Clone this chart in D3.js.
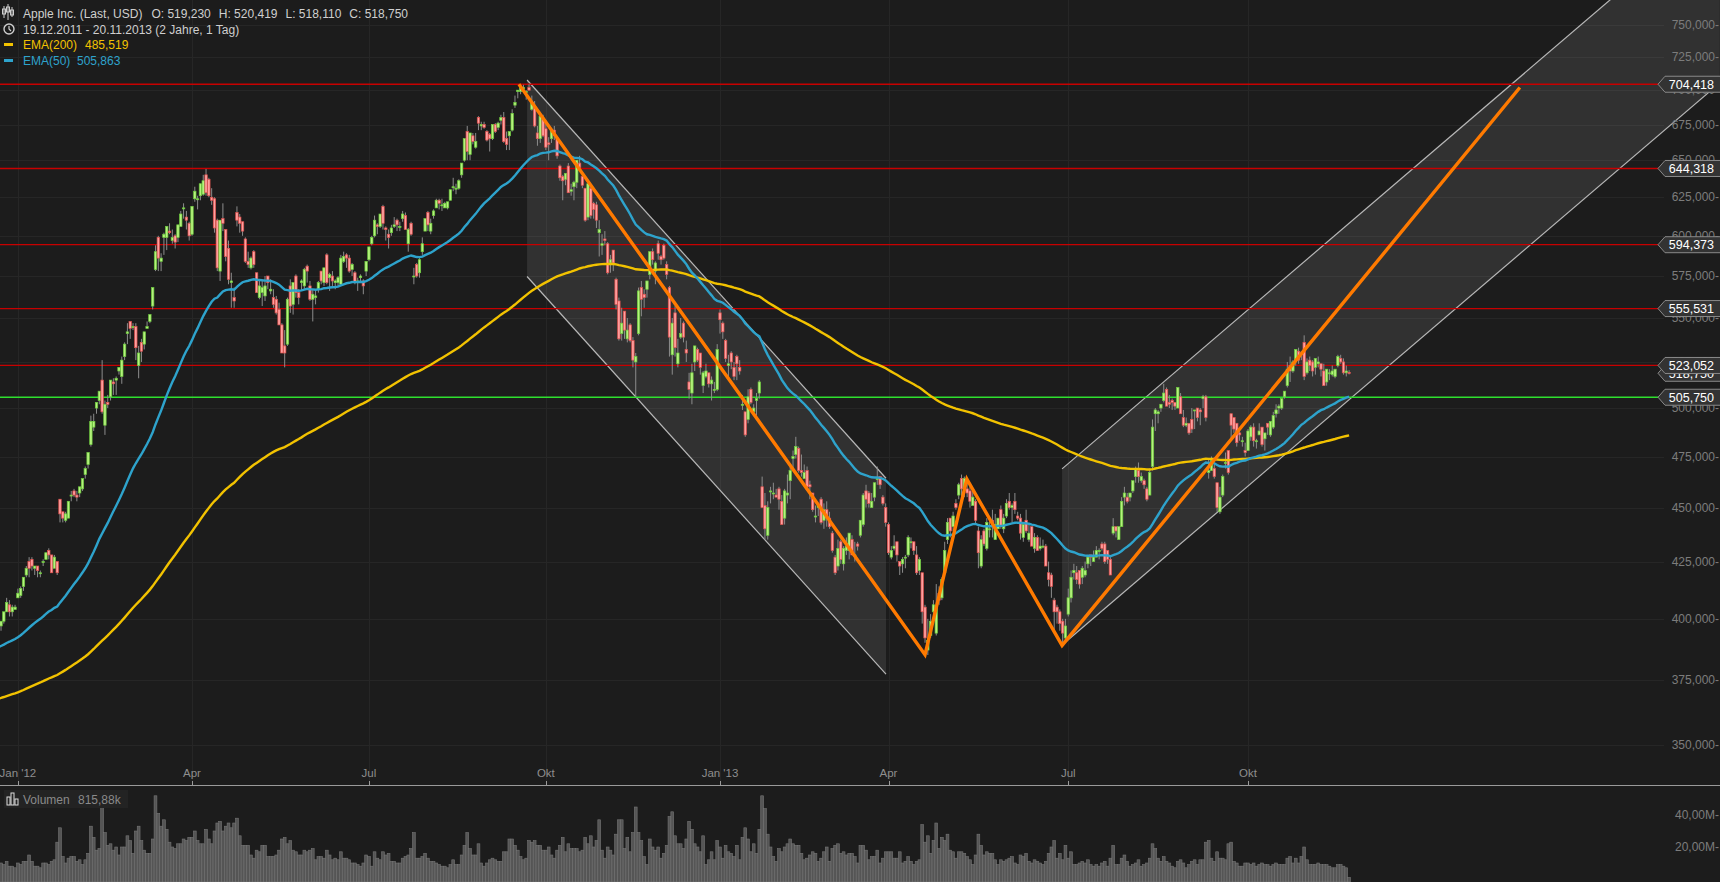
<!DOCTYPE html>
<html><head><meta charset="utf-8">
<script src="https://cdn.jsdelivr.net/npm/d3@7"></script>
<style>html,body{margin:0;padding:0;background:#1c1c1c;overflow:hidden}svg{display:block}</style>
</head><body>
<svg id="chart" width="1720" height="882"></svg>
<script>
// ---- DATA: daily rows [day, open, high, low, close, volume (millions)] ----
const m2011_12=[[19,385,385,380,382,11],[20,388,396,388,396,15],[21,396,397,388,396,13],[22,397,399,395,399,10],[23,399,403,398,403,9],[27,403,409,403,407,11],[28,406,408,401,403,8],[29,403,406,401,405,8],[30,404,406,404,405,7]];
const m2012_01=[[3,409,413,409,411,10],[4,410,414,409,413,9],[5,414,418,412,418,11],[6,419,423,418,422,11],[9,425,427,418,422,15],[10,426,427,421,423,11],[11,422,423,419,423,8],[12,423,423,418,421,8],[13,420,421,418,420,7],[17,425,426,423,425,10],[18,426,429,426,429,10],[19,430,431,426,428,9],[20,428,428,420,420,11],[23,422,428,422,427,12],[24,425,425,419,420,23],[25,454,454,443,447,32],[26,448,448,443,445,14],[27,444,448,443,447,10],[30,445,453,445,453,13],[31,456,458,453,456,14]];
const m2012_02=[[1,458,459,455,456,14],[2,456,458,453,455,11],[3,457,460,455,460,12],[6,459,464,458,464,9],[7,466,470,464,469,12],[8,471,477,469,477,16],[9,481,496,480,493,33],[10,490,497,488,493,26],[13,500,503,497,503,18],[14,504,509,502,509,19],[15,515,526,497,498,55],[16,491,504,486,502,29],[17,503,507,500,502,21],[21,506,515,504,515,22],[22,514,516,507,513,18],[23,515,517,507,516,20],[24,520,522,518,522,15],[27,517,528,513,526,20],[28,528,536,526,535,20],[29,541,547,535,542,27]];
const m2012_03=[[1,548,548,538,544,24],[2,545,547,543,545,16],[5,545,547,526,533,30],[6,523,534,516,530,33],[7,536,538,525,531,24],[8,535,542,532,542,18],[9,544,548,544,545,16],[12,548,552,547,552,16],[13,557,568,555,568,25],[14,579,594,578,590,52],[15,599,600,578,586,41],[16,584,589,578,586,33],[19,599,602,588,601,37],[20,599,606,591,606,31],[21,603,608,601,602,23],[22,597,604,595,599,20],[23,600,601,592,596,19],[26,599,607,596,607,22],[27,606,616,606,614,22],[28,618,621,611,618,25],[29,612,616,604,610,24],[30,608,609,597,600,26]];
const m2012_04=[[2,601,619,600,619,26],[3,624,632,622,629,30],[4,624,626,617,624,24],[5,626,634,623,634,22],[9,627,640,626,636,22],[10,640,644,626,628,31],[11,637,638,625,626,25],[12,625,631,620,623,22],[13,624,625,602,605,30],[16,610,611,578,580,35],[17,578,610,572,610,36],[18,611,621,603,608,30],[19,604,604,584,587,33],[20,592,597,570,573,35],[23,571,577,556,572,32],[24,562,568,556,560,35],[25,615,619,606,610,38],[26,612,614,602,608,27],[27,609,609,600,603,21],[30,598,599,583,584,21]];
const m2012_05=[[1,584,590,580,582,21],[2,580,587,579,586,15],[3,590,591,580,582,13],[4,577,577,565,565,18],[7,562,573,561,569,17],[8,565,573,557,568,21],[9,563,575,560,569,21],[10,575,575,567,571,14],[11,566,573,564,567,14],[14,562,567,556,558,14],[15,561,563,552,553,15],[16,555,559,546,546,18],[17,546,547,530,530,25],[18,534,543,522,530,26],[21,535,562,534,561,22],[22,569,573,553,557,24],[23,558,571,552,571,18],[24,575,576,562,565,17],[25,565,567,558,562,15],[29,571,573,566,572,15],[30,569,580,567,579,18],[31,581,582,571,578,17]];
const m2012_06=[[1,569,572,560,561,18],[4,561,567,548,564,19],[5,562,566,558,563,12],[6,567,572,565,571,14],[7,578,578,570,572,14],[8,571,580,569,580,13],[11,588,589,570,571,18],[12,574,577,566,576,15],[13,575,578,569,572,12],[14,571,573,567,572,13],[15,571,575,569,574,12],[18,570,588,570,586,17],[19,584,590,583,587,13],[20,588,589,580,586,13],[21,586,588,577,578,12],[22,579,583,575,582,10],[25,577,578,570,571,10],[26,572,574,566,572,9],[27,574,576,571,575,8],[28,572,573,564,569,10],[29,578,584,575,584,15]];
const m2012_07=[[2,585,593,584,593,14],[3,595,600,594,599,8],[5,600,613,599,610,17],[6,607,608,601,606,13],[9,606,614,605,614,12],[10,619,620,604,608,17],[11,605,606,597,604,15],[12,601,604,592,599,16],[13,602,607,600,605,11],[16,606,612,605,607,11],[17,610,611,603,607,10],[18,606,609,603,606,10],[19,611,616,609,614,13],[20,613,615,604,604,14],[23,595,605,590,604,15],[24,608,609,600,601,19],[25,575,580,570,575,29],[26,582,583,574,575,13],[27,577,586,574,585,13],[30,590,599,588,595,14],[31,603,611,603,611,16]];
const m2012_08=[[1,615,616,603,607,13],[2,603,611,601,608,11],[3,613,617,611,616,11],[6,618,624,618,623,10],[7,623,624,617,621,9],[8,620,624,616,620,8],[9,618,622,618,621,8],[10,618,622,617,622,7],[13,623,630,623,630,9],[14,632,638,629,632,12],[15,631,634,627,631,9],[16,631,637,630,636,9],[17,640,648,638,648,15],[20,650,665,649,665,21],[21,670,674,650,656,29],[22,654,669,650,669,19],[23,667,669,661,663,15],[24,659,669,658,663,15],[27,680,681,671,676,22],[28,674,677,671,675,10],[29,675,677,672,673,8],[30,670,671,663,664,10],[31,668,669,656,665,12]];
const m2012_09=[[4,665,675,664,675,13],[5,675,676,669,670,12],[6,673,677,671,676,11],[7,678,682,675,680,11],[10,680,684,662,663,17],[11,665,670,657,661,17],[12,667,670,657,670,25],[13,671,686,670,683,25],[14,689,696,687,691,21],[17,699,700,694,700,18],[18,699,703,697,702,14],[19,701,704,700,702,12],[20,699,700,693,699,13],[21,702,704.4,700,700,24],[24,686,696,685,691,23],[25,688,692,673,674,24],[26,669,674,660,665,21],[27,665,682,662,681,21],[28,679,682,666,667,18]];
const m2012_10=[[1,672,676,657,659,18],[2,662,666,650,661,20],[3,665,672,662,671,15],[4,671,674,664,667,13],[5,665,666,651,653,18],[8,646,647,636,638,21],[9,639,640,623,636,26],[10,637,641,633,641,17],[11,646,648,628,628,22],[12,629,634,626,630,19],[15,632,636,623,635,19],[16,635,650,631,650,19],[17,648,653,643,645,17],[18,639,642,631,633,18],[19,631,631,609,610,26],[22,612,635,610,634,22],[23,631,633,611,613,27],[24,621,622,611,617,20],[25,620,622,605,610,24],[26,602,610,587,604,37],[31,594,601,588,595,18]];
const m2012_11=[[1,598,603,594,597,13],[2,595,596,576,577,20],[5,583,588,577,585,18],[6,591,591,578,583,15],[7,573,574,555,558,28],[8,560,562,537,538,37],[9,541,556,537,547,37],[12,554,554,538,543,19],[13,538,550,536,543,26],[14,546,547,536,537,17],[15,537,539,522,526,29],[16,525,530,505.75,528,45],[19,541,568,540,566,29],[20,568,572,551,561,24],[21,564,567,556,562,14],[23,567,572,562,572,9],[26,576,590,573,590,25],[27,590,592,582,585,20],[28,578,584,570,583,18],[29,595,597,585,589,20],[30,587,588,582,585,13]];
const m2012_12=[[3,594,595,585,586,16],[4,582,584,573,576,21],[5,568,569,528,539,39],[6,529,550,518,547,42],[7,553,557,528,533,27],[10,524,538,522,530,22],[11,539,550,538,541,22],[12,547,548,536,539,19],[13,532,537,525,530,25],[14,514,519,505,510,36],[17,508,524,502,519,31],[18,525,534,520,534,22],[19,532,533,525,526,20],[20,530,530,518,522,17],[21,512,520,508,519,27],[24,517,524,516,520,9],[26,519,519,511,513,12],[27,513,517,504,515,17],[28,510,514,508,510,12],[31,510,535,509,532,24]];
const m2013_01=[[2,553,555,541,549,20],[3,547,548,538,542,13],[4,537,538,525,527,21],[7,523,529,515,524,17],[8,530,531,521,525,16],[9,522,525,515,517,14],[10,528,529,515,524,21],[11,522,526,518,520,12],[14,502,507,499,502,26],[15,498,498,485,486,32],[16,494,510,492,506,25],[17,510,511,502,503,17],[18,498,502,496,500,22],[22,504,508,496,505,16],[23,508,515,505,514,31],[24,460,465,450,450,52],[25,451,457,435,440,44],[28,437,453,435,450,28],[29,458,460,452,458,20],[30,457,462,454,457,14],[31,456,459,455,455,11]];
const m2013_02=[[1,459,460,449,454,19],[4,453,456,442,442,17],[5,445,459,442,458,20],[6,456,466,452,457,22],[7,463,470,454,468,25],[8,474,478,468,475,22],[11,476,485,474,480,21],[12,479,480,467,468,21],[13,468,476,465,467,16],[14,464,471,464,467,12],[15,468,470,459,460,13],[19,461,463,454,460,15],[20,457,457,448,449,17],[21,446,451,443,446,16],[22,450,451,446,451,11],[25,454,455,442,443,13],[26,444,452,440,449,17],[27,449,453,441,445,20],[28,445,448,440,441,11]];
const m2013_03=[[1,438,439,429,430,19],[4,427,428,419,420,21],[5,423,435,421,431,22],[6,434,435,424,426,16],[7,424,432,421,431,17],[8,430,436,428,432,15],[11,430,438,426,438,16],[12,435,437,428,428,16],[13,428,434,425,428,14],[14,433,434,430,432,10],[15,437,444,436,444,21],[18,442,457,441,456,21],[19,458,461,450,454,18],[20,457,458,450,452,12],[21,450,457,450,453,14],[22,455,462,453,462,14],[25,464,470,461,464,18],[26,465,465,459,461,10],[27,455,456,451,452,13],[28,450,452,441,443,17]];
const m2013_04=[[1,442,443,428,429,17],[2,427,432,426,430,17],[3,431,437,430,432,13],[4,434,434,425,428,13],[5,425,425,419,423,17],[8,424,427,420,426,10],[9,427,428,422,427,11],[10,428,437,427,436,14],[11,434,436,431,434,11],[12,434,434,428,430,9],[15,428,432,419,420,11],[16,421,427,419,426,12],[17,420,420,398,403,34],[18,405,406,390,392,23],[19,387,400,385,391,27],[22,393,402,392,399,16],[23,403,408,398,406,24],[24,394,415,393,405,35],[25,411,414,406,408,19],[26,409,418,408,417,26],[29,420,434,420,430,24],[30,435,445,433,443,28]];
const m2013_05=[[1,445,445,436,439,18],[2,441,448,439,446,17],[3,452,454,449,450,13],[6,456,462,454,461,17],[7,464,466,453,459,17],[8,459,465,455,464,16],[9,459,463,455,457,14],[10,458,460,450,453,12],[13,451,458,451,455,9],[14,453,454,442,444,15],[15,439,441,422,429,28],[16,423,437,422,435,21],[17,439,440,432,433,15],[20,431,445,430,443,17],[21,440,445,436,440,16],[22,444,449,436,441,16],[23,435,447,435,442,12],[24,440,445,440,445,9],[28,449,451,440,441,12],[29,440,447,438,445,11],[30,446,454,445,452,12],[31,453,457,449,450,13]];
const m2013_06=[[3,450,452,443,451,14],[4,453,457,447,449,10],[5,446,448,444,445,9],[6,445,447,435,438,15],[7,436,443,434,442,14],[10,444,449,438,439,16],[11,435,442,434,438,11],[12,441,441,432,432,10],[13,431,438,429,436,12],[14,436,437,430,430,11],[17,431,436,430,432,10],[18,432,435,431,432,9],[19,432,433,423,423,11],[20,420,425,414,417,16],[21,419,420,409,414,20],[24,408,409,395,403,24],[25,405,406,398,403,13],[26,403,404,395,398,16],[27,399,400,389,394,12],[28,392,400,390,397,21]];
const m2013_07=[[1,402,413,401,409,13],[2,409,421,407,418,17],[3,420,424,417,421,9],[5,420,423,415,417,9],[8,421,421,413,415,10],[9,418,423,415,422,11],[10,419,425,418,421,10],[11,424,428,422,427,12],[12,428,428,423,427,9],[15,425,430,425,427,8],[16,427,432,427,430,9],[17,430,431,426,430,8],[18,433,434,430,431,10],[19,433,434,424,425,11],[22,430,430,424,426,8],[23,426,427,419,419,13],[24,438,445,437,441,21],[25,441,441,436,439,9],[26,435,441,435,441,9],[29,441,455,441,453,13],[30,455,460,451,457,15],[31,455,457,452,453,11]];
const m2013_08=[[1,455,457,453,457,8],[2,458,463,457,463,9],[5,465,470,462,469,10],[6,468,472,462,465,12],[7,463,467,462,465,8],[8,463,464,459,461,9],[9,459,460,453,454,10],[12,456,469,456,467,13],[13,470,494,468,490,22],[14,497,500,488,499,19],[15,497,499,492,498,13],[16,500,502,498,502,11],[19,504,513,503,508,14],[20,510,511,501,501,11],[21,503,507,500,502,10],[22,504,505,499,503,8],[23,503,503,499,501,7],[26,500,511,500,511,11],[27,506,508,497,497,12],[28,495,499,490,491,10],[29,491,495,490,492,7],[30,492,492,486,487,9]];
const m2013_09=[[3,494,500,487,489,11],[4,499,499,489,499,12],[5,500,500,493,495,9],[6,499,500,491,498,12],[9,505,507,500,506,12],[10,506,507,493,495,23],[11,467,474,464,468,24],[12,468,475,468,473,13],[13,469,472,464,465,11],[16,462,462,448,450,17],[17,448,460,447,455,13],[18,456,466,455,465,13],[19,472,477,469,472,12],[20,478,478,466,467,22],[23,497,497,484,491,23],[24,495,495,487,489,11],[25,492,492,480,482,10],[26,487,488,483,486,8],[27,483,485,480,483,8],[30,478,482,475,477,10]];
const m2013_10=[[1,478,489,478,488,10],[2,485,491,483,490,9],[3,490,492,480,483,10],[4,483,484,479,483,8],[7,486,492,486,488,9],[8,490,490,480,481,10],[9,484,487,478,487,9],[10,492,492,486,490,9],[11,486,493,485,493,8],[14,490,498,489,496,9],[15,497,502,495,499,10],[16,500,502,497,501,9],[17,500,505,499,505,9],[18,506,509,505,509,9],[21,512,525,511,521,13],[22,523,528,514,520,14],[23,520,526,519,525,10],[24,526,532,523,532,13],[25,531,533,524,526,10],[28,530,531,526,530,14],[29,536,540,515,517,20],[30,519,527,518,525,12],[31,526,528,520,523,9]];
const m2013_11=[[1,525,526,517,520,9],[4,522,527,518,527,9],[5,524,528,522,525,10],[6,524,524,517,521,9],[7,520,524,512,512,9],[8,514,521,512,521,9],[11,519,521,515,519,8],[12,518,523,517,520,7],[13,517,521,516,521,7],[14,523,529,522,528,9],[15,527,529,524,525,9],[18,525,527,518,519,8],[19,519,523,517,520,7],[20,519.23,520.419,518.11,518.75,1]];

// horizontal support / resistance levels
const levelValues=[704.418,644.318,594.373,555.531,523.052,505.750];
const levelKinds=["res","res","res","res","res","sup"];
const lastPrice=518.750;
// price-axis ticks
const priceTicks=[350,375,400,425,450,475,500,525,550,575,600,625,650,675,700,725,750];
const volTicks=[20,40];
const quarterLabels=["Jan '12","Apr","Jul","Okt","Jan '13","Apr","Jul","Okt"];
// legend texts
const headerItems=["Apple Inc. (Last, USD)","O: 519,230","H: 520,419","L: 518,110","C: 518,750"];
// drawn studies (trading-day index, price)
const zigzagIdx=[187.4,332,346.9,380.8,543.8];
const zigzagPx=[704.4,385.1,463.8,388.9,702];
const downChIdx=[190.3,318.1];
const downChUpper=[707.6,464.2];
const downChLower=[574.7,377.3];
const upChIdx=[380.8,615];
const upChUpper=[468.8,850.7];
const upChLower=[389.1,705.4];
// EMA start values read at the left edge
const ema200Seed=367, ema50Seed=387.6;

const months=[[2011,12,m2011_12],[2012,1,m2012_01],[2012,2,m2012_02],[2012,3,m2012_03],[2012,4,m2012_04],[2012,5,m2012_05],[2012,6,m2012_06],[2012,7,m2012_07],[2012,8,m2012_08],[2012,9,m2012_09],[2012,10,m2012_10],[2012,11,m2012_11],[2012,12,m2012_12],[2013,1,m2013_01],[2013,2,m2013_02],[2013,3,m2013_03],[2013,4,m2013_04],[2013,5,m2013_05],[2013,6,m2013_06],[2013,7,m2013_07],[2013,8,m2013_08],[2013,9,m2013_09],[2013,10,m2013_10],[2013,11,m2013_11]];
const bars=[];
const quarterStarts=[];
months.forEach(([y,m,rows])=>{
  if(m%3===1 && y>=2012) quarterStarts.push(bars.length);
  rows.forEach(r=>bars.push({y,m,d:r[0],o:r[1],h:r[2],l:r[3],c:r[4],v:r[5]}));
});

function ema(period,seed){const k=2/(period+1);let e=seed;return bars.map((b,i)=>{if(i>0)e=b.c*k+e*(1-k);return e;});}
const ema200=ema(200,ema200Seed), ema50=ema(50,ema50Seed);

// ---- SCALES ----
const W=1720,H=882;
const x=d3.scaleLinear().domain([0,bars.length-1]).range([-7.4,1349.1]);
const y=d3.scaleLog().domain([350,750]).range([745,25]);
const yv=d3.scaleLinear().domain([0,60]).range([879,783]);
const PANE_BOTTOM=785;

const svg=d3.select("#chart");
svg.append("rect").attr("width",W).attr("height",H).attr("fill","#1c1c1c");
const defs=svg.append("defs");
defs.append("clipPath").attr("id","pc").append("rect").attr("x",0).attr("y",0).attr("width",W).attr("height",PANE_BOTTOM);
defs.append("clipPath").attr("id","vc").append("rect").attr("x",0).attr("y",PANE_BOTTOM+1).attr("width",W).attr("height",H-PANE_BOTTOM);

const font="'Liberation Sans', Arial, sans-serif";
const pane=svg.append("g").attr("clip-path","url(#pc)");

// grid
pane.append("g").selectAll("line").data(priceTicks).join("line")
 .attr("x1",0).attr("x2",1664).attr("y1",d=>Math.round(y(d))+0.5).attr("y2",d=>Math.round(y(d))+0.5)
 .attr("stroke","#262626").attr("stroke-width",1);
pane.append("g").selectAll("line").data(quarterStarts).join("line")
 .attr("x1",d=>Math.round(x(d))+0.5).attr("x2",d=>Math.round(x(d))+0.5).attr("y1",0).attr("y2",PANE_BOTTOM)
 .attr("stroke","#262626").attr("stroke-width",1);

// channels
function channel(idx,up,lo){
  const pts=[[x(idx[0]),y(up[0])],[x(idx[1]),y(up[1])],[x(idx[1]),y(lo[1])],[x(idx[0]),y(lo[0])]];
  pane.append("polygon").attr("points",pts.map(p=>p.join(",")).join(" ")).attr("fill","rgba(255,255,255,0.095)");
  pane.append("line").attr("x1",pts[0][0]).attr("y1",pts[0][1]).attr("x2",pts[1][0]).attr("y2",pts[1][1]).attr("stroke","#b8b8b8").attr("stroke-width",1.2);
  pane.append("line").attr("x1",pts[3][0]).attr("y1",pts[3][1]).attr("x2",pts[2][0]).attr("y2",pts[2][1]).attr("stroke","#b8b8b8").attr("stroke-width",1.2);
}
channel(downChIdx,downChUpper,downChLower);
channel(upChIdx,upChUpper,upChLower);

// levels
pane.append("g").selectAll("line").data(levelValues).join("line")
 .attr("x1",0).attr("x2",1660).attr("y1",d=>y(d)).attr("y2",d=>y(d))
 .attr("stroke",(d,i)=>levelKinds[i]==="sup"?"#2ee02e":"#c80000").attr("stroke-width",1.3);

// candles
const cg=pane.append("g");
cg.selectAll("line").data(bars).join("line")
 .attr("x1",(d,i)=>x(i)).attr("x2",(d,i)=>x(i)).attr("y1",d=>y(d.h)).attr("y2",d=>y(d.l))
 .attr("stroke","#8c8c8c").attr("stroke-width",1);
cg.selectAll("rect").data(bars).join("rect")
 .attr("x",(d,i)=>x(i)-1.2).attr("width",2.4)
 .attr("y",d=>y(Math.max(d.o,d.c)))
 .attr("height",d=>Math.max(1,Math.abs(y(d.o)-y(d.c))))
 .attr("fill",d=>d.c>=d.o?"#b6f27e":"#ffa0a0")
 .attr("stroke",d=>d.c>=d.o?"#6ccb3c":"#e0504c").attr("stroke-width",0.7);

// EMAs
const ln=d3.line().x((d,i)=>x(i)).y(d=>y(d));
pane.append("path").attr("d",ln(ema200)).attr("fill","none").attr("stroke","#f2c200").attr("stroke-width",2.4);
pane.append("path").attr("d",ln(ema50)).attr("fill","none").attr("stroke","#2ea3cc").attr("stroke-width",2.4);

// zigzag
const zz=zigzagIdx.map((v,i)=>[x(v),y(zigzagPx[i])]);
pane.append("path").attr("d",d3.line()(zz)).attr("fill","none").attr("stroke","#ff7a00").attr("stroke-width",3.4).attr("stroke-linejoin","miter");

// x axis
svg.append("line").attr("x1",0).attr("x2",W).attr("y1",PANE_BOTTOM+0.5).attr("y2",PANE_BOTTOM+0.5).attr("stroke","#9a9a9a").attr("stroke-width",1);
svg.append("g").selectAll("line").data(quarterStarts).join("line")
 .attr("x1",d=>Math.round(x(d))+0.5).attr("x2",d=>Math.round(x(d))+0.5).attr("y1",PANE_BOTTOM-4).attr("y2",PANE_BOTTOM)
 .attr("stroke","#9a9a9a");
svg.append("g").selectAll("text").data(quarterStarts).join("text")
 .attr("x",d=>x(d)).attr("y",777).attr("text-anchor","middle")
 .attr("font-family",font).attr("font-size",11.5).attr("fill","#8e8e8e")
 .text((d,i)=>quarterLabels[i]);

// y axis labels
const fmtTick=d=>d3.format(".3f")(d).replace(".",",")+"-";
svg.append("g").selectAll("text").data(priceTicks).join("text")
 .attr("x",1719).attr("y",d=>y(d)+4).attr("text-anchor","end")
 .attr("font-family",font).attr("font-size",12).attr("fill","#7c7c7c")
 .text(fmtTick);

// volume
const vg=svg.append("g").attr("clip-path","url(#vc)");
vg.selectAll("rect").data(bars).join("rect")
 .attr("x",(d,i)=>x(i)-1.4).attr("width",2.8)
 .attr("y",d=>yv(d.v)).attr("height",d=>H-yv(d.v))
 .attr("fill","#555555").attr("stroke","#767676").attr("stroke-width",0.6);
svg.append("g").selectAll("text").data(volTicks).join("text")
 .attr("x",1719).attr("y",d=>yv(d)+4).attr("text-anchor","end")
 .attr("font-family",font).attr("font-size",12).attr("fill","#7c7c7c")
 .text(d=>d3.format(".2f")(d).replace(".",",")+"M-");

// price tags
function tag(v,label){
  const cy=y(v), tip=1658;
  const g=svg.append("g");
  g.append("path").attr("d",`M${tip},${cy} L${tip+7},${cy-8} L${W+2},${cy-8} L${W+2},${cy+8} L${tip+7},${cy+8} Z`)
   .attr("fill","#333333").attr("stroke","#8a8a8a").attr("stroke-width",1);
  g.append("text").attr("x",1714).attr("y",cy+4.5).attr("text-anchor","end")
   .attr("font-family",font).attr("font-size",12.5).attr("fill","#ffffff").text(label);
}
const fmtP=v=>d3.format(".3f")(v).replace(".",",");
tag(lastPrice,fmtP(lastPrice));
levelValues.forEach(v=>tag(v,fmtP(v)));

// legend
const lg=svg.append("g").attr("font-family",font).attr("font-size",12);
[[4,6,12],[8,4,14],[12,7,11]].forEach(([xx,y0,y1])=>{lg.append("line").attr("x1",xx).attr("x2",xx).attr("y1",y0).attr("y2",y1+6).attr("stroke","#cfcfcf").attr("stroke-width",1);lg.append("rect").attr("x",xx-1.5).attr("y",y0+3).attr("width",3).attr("height",5).attr("fill","none").attr("stroke","#cfcfcf").attr("stroke-width",1);});
let hx=23;
headerItems.forEach((t,i)=>{
  const tx=lg.append("text").attr("x",hx).attr("y",18).attr("fill","#cfcfcf").text(t);
  hx+=tx.node().getComputedTextLength()+(i===0?9:8);
});
lg.append("circle").attr("cx",9).attr("cy",29).attr("r",5).attr("fill","none").attr("stroke","#cfcfcf").attr("stroke-width",1.4);
lg.append("path").attr("d","M9,26 L9,29 L11,31").attr("fill","none").attr("stroke","#cfcfcf").attr("stroke-width",1.2);
lg.append("text").attr("x",23).attr("y",34).attr("fill","#cfcfcf").text("19.12.2011 - 20.11.2013 (2 Jahre, 1 Tag)");
lg.append("rect").attr("x",4).attr("y",43).attr("width",9).attr("height",3).attr("fill","#f2c200");
lg.append("text").attr("x",23).attr("y",49).attr("fill","#f2c200").text("EMA(200)");
lg.append("text").attr("x",85).attr("y",49).attr("fill","#f2c200").text("485,519");
lg.append("rect").attr("x",4).attr("y",59).attr("width",9).attr("height",3).attr("fill","#2ea3cc");
lg.append("text").attr("x",23).attr("y",65).attr("fill","#2ea3cc").text("EMA(50)");
lg.append("text").attr("x",77).attr("y",65).attr("fill","#2ea3cc").text("505,863");

// volume legend
const vl=svg.append("g").attr("font-family",font).attr("font-size",12);
vl.append("rect").attr("x",4).attr("y",790).attr("width",124).attr("height",18).attr("fill","#232323");
[[7,797],[11,793],[15,799]].forEach(([xx,yy])=>vl.append("rect").attr("x",xx).attr("y",yy).attr("width",3).attr("height",805-yy).attr("fill","none").attr("stroke","#dddddd").attr("stroke-width",1));
vl.append("text").attr("x",23).attr("y",804).attr("fill","#8a8a8a").text("Volumen");
vl.append("text").attr("x",78).attr("y",804).attr("fill","#8a8a8a").text("815,88k");
</script>
</body></html>
